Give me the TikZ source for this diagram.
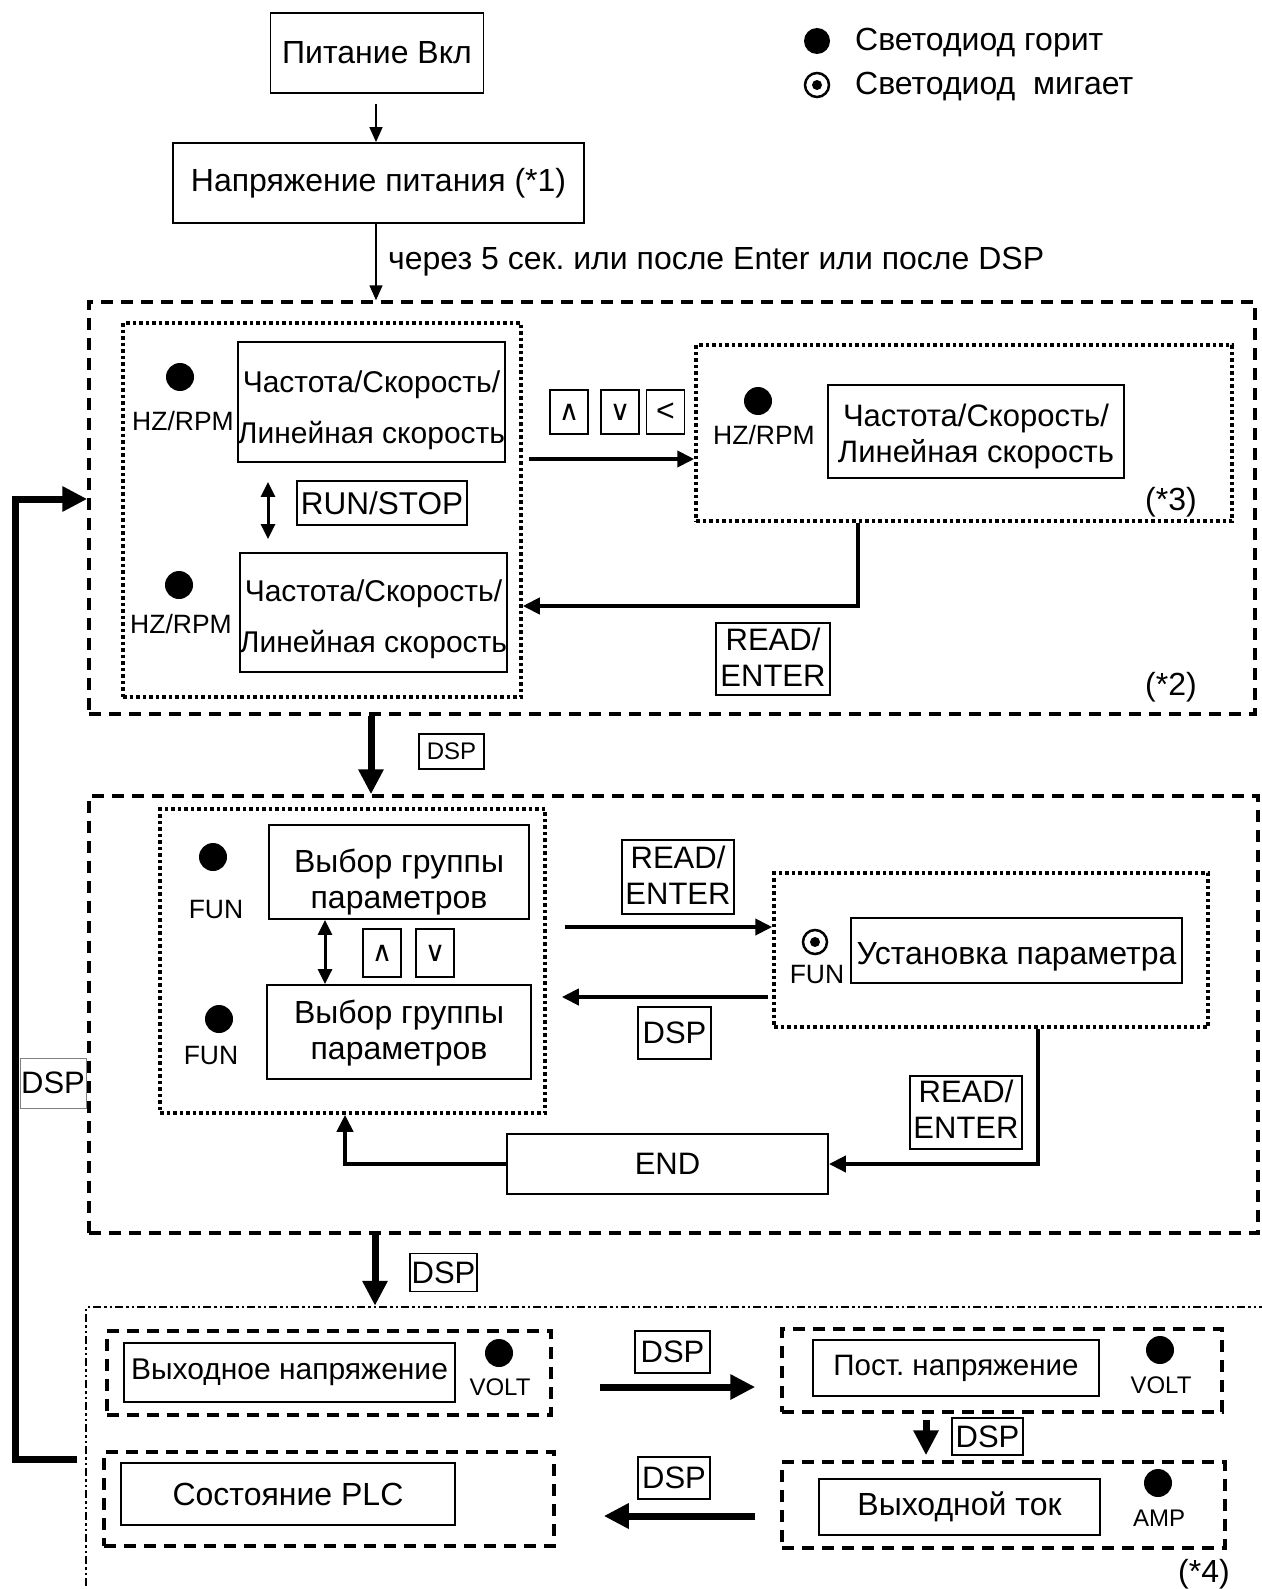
\documentclass[tikz,border=0pt]{standalone}
\usepackage{fontspec}
\setmainfont{Liberation Sans}
\newfontfamily\symfnt{DejaVu Sans}
\usetikzlibrary{arrows.meta,calc}
\newcommand\myfs[2]{\fontsize{#1}{#2}\selectfont}
\newcommand\shiftdown[2]{\raisebox{-#1}[\height][\depth]{#2}}
\newcommand\twol[2]{\begin{tabular}{@{}c@{}}#1\\#2\end{tabular}}
\frenchspacing
\tikzset{
  box/.style={draw, line width=1.8pt, inner sep=0pt, align=center, font=\myfs{32}{36}},
  keybox/.style={draw, line width=1.6pt, inner sep=0pt, minimum width=38, minimum height=44, font=\symfnt\myfs{28}{32}},
  dspbox/.style={draw, line width=1.6pt, inner sep=0pt, font=\myfs{31}{36}},
  dashbox/.style={draw, line width=3.5pt, dash pattern=on 12pt off 8pt, inner sep=0pt},
  dotbox/.style={draw, line width=3.5pt, dash pattern=on 3.5pt off 3pt, inner sep=0pt},
  dashdotbox/.style={draw, line width=2.5pt, dash pattern=on 8pt off 3pt on 2.5pt off 3pt on 2.5pt off 3pt, inner sep=0pt},
  led/.style={circle, fill=black, inner sep=0pt, minimum size=28},
  ledlab/.style={inner sep=0pt, font=\myfs{26.5}{30}},
  smlab/.style={inner sep=0pt, font=\myfs{24}{28}},
  txt/.style={inner sep=0pt, font=\myfs{32}{36}},
  thinarrow/.style={line width=1.5pt, -{Triangle[length=15pt, width=13pt]}},
  midarrow/.style={line width=4pt, -{Triangle[length=17pt, width=16pt]}},
  dblarrow/.style={line width=3pt, {Triangle[length=15pt, width=14pt]}-{Triangle[length=15pt, width=14pt]}},
  thickarrow/.style={line width=7pt, -{Triangle[length=25pt, width=24pt]}},
}
\begin{document}
\begin{tikzpicture}[x=1pt, y=-1pt]
\useasboundingbox (0,0) rectangle (1261,1589);
\fill[white] (0,0) rectangle (1261,1589);

% ---------- top ----------
\node[box, minimum width=213, minimum height=80] (pwr) at (377,53) {Питание Вкл};
\node[box, minimum width=411, minimum height=80] (volt) at (378.5,183) {Напряжение питания (*1)};
\draw[thinarrow, shorten <=10pt] (376,0 |- pwr.south) -- (376,0 |- volt.north);
\node[txt, anchor=west] (lbl5) at (388,262) {через 5 сек. или после Enter или после DSP};

% legend
\node[led, minimum size=26] (legon) at (817,41) {};
\node[txt, anchor=west] (legontxt) at (855,43) {Светодиод горит};
\node[circle, draw, line width=2.5pt, inner sep=0pt, minimum size=24] (legbl) at (817,85) {};
\fill (legbl.center) circle (5);
\node[txt, anchor=west] (legbltxt) at (855,87) {Светодиод\ \ мигает};

% ---------- section 1 ----------
\node[dashbox, minimum width=1166, minimum height=412] (sec1) at (672,508) {};
\draw[thinarrow] (376,0 |- volt.south) -- (376,0 |- sec1.north);
\node[dotbox, minimum width=398, minimum height=374] (d1) at (322,510) {};
\node[box, minimum width=267, minimum height=120, font=\myfs{30}{51}] (a1) at (371.5,402) {\shiftdown{6pt}{\twol{Частота/Скорость/}{Линейная скорость}}};
\node[box, minimum width=267, minimum height=119, font=\myfs{30}{51}] (a2) at (373.5,612.5) {\shiftdown{4pt}{\twol{Частота/Скорость/}{Линейная скорость}}};
\node[led] (la1) at (180,377) {};
\node[ledlab] (ha1) at (183,421) {HZ/RPM};
\node[led] (la2) at (179,585) {};
\node[ledlab] (ha2) at (181,624) {HZ/RPM};
\draw[dblarrow, shorten <=19pt, shorten >=13pt] (268,0 |- a1.south) -- (268,0 |- a2.north);
\node[box, minimum width=170, minimum height=44, font=\myfs{31.5}{36}] (runstop) at (382,503) {RUN/STOP};

\node[keybox] (k1) at (569,412) {∧};
\node[keybox] (k2) at (620,412) {∨};
\node[keybox, font=\myfs{32}{36}] (k3) at (665.5,412) {<};

\node[dotbox, minimum width=536, minimum height=176] (d2) at (964,433) {};
\node[led] (la3) at (758,401) {};
\node[ledlab] (ha3) at (764,435) {HZ/RPM};
\node[box, minimum width=296, minimum height=93, font=\myfs{31}{36}] (a3) at (976,431.5) {\shiftdown{6pt}{\twol{Частота/Скорость/}{Линейная скорость}}};
\node[txt] (n3) at (1171,502) {(*3)};

\draw[midarrow, shorten <=6pt] (d1.east |- 0,459) -- (d2.west |- 0,459);
\draw[midarrow, line join=miter] (858,0 |- d2.south) |- (d1.east |- 0,606);
\node[box, minimum width=114, minimum height=72, font=\myfs{31}{36}] (re1) at (773,659) {\shiftdown{2pt}{\twol{READ/}{ENTER}}};
\node[txt] (n2) at (1171,687) {(*2)};

% ---------- link 1 -> 2 ----------
\node[dspbox, minimum width=65, minimum height=35, font=\myfs{24}{28}] (dsp1) at (451.5,751.5) {DSP};

% ---------- section 2 ----------
\node[dashbox, minimum width=1169, minimum height=437] (sec2) at (673.5,1014.5) {};
\draw[thickarrow] (371,0 |- sec1.south) -- (371,0 |- sec2.north);
\node[dotbox, minimum width=385, minimum height=304] (d2a) at (352.5,961) {};
\node[box, minimum width=260, minimum height=94] (b1) at (399,872) {\shiftdown{11pt}{\twol{Выбор группы}{параметров}}};
\node[box, minimum width=264, minimum height=94] (b2) at (399,1032) {\shiftdown{2pt}{\twol{Выбор группы}{параметров}}};
\node[led] (lb1) at (213,857) {};
\node[ledlab] (fb1) at (216,910) {FUN};
\node[led] (lb2) at (219,1019) {};
\node[ledlab] (fb2) at (211,1056) {FUN};
\draw[dblarrow] (325,0 |- b1.south) -- (325,0 |- b2.north);
\node[keybox, minimum height=48] (k4) at (382,953) {∧};
\node[keybox, minimum height=48] (k5) at (435,953) {∨};

\node[box, minimum width=112, minimum height=74, font=\myfs{31}{36}] (re2) at (678,877) {\shiftdown{2pt}{\twol{READ/}{ENTER}}};
\node[dotbox, minimum width=434, minimum height=154] (d3) at (991,950) {};
\node[circle, draw, line width=2.5pt, inner sep=0pt, minimum size=24] (lc1) at (815,942) {};
\fill (lc1.center) circle (5);
\node[ledlab] (fc1) at (817,975) {FUN};
\node[box, minimum width=331, minimum height=65] (c1) at (1016.5,950.5) {\shiftdown{6pt}{Установка параметра}};
\draw[midarrow, shorten <=18pt] (d2a.east |- 0,927) -- (d3.west |- 0,927);
\draw[midarrow, shorten <=4pt, shorten >=15pt] (d3.west |- 0,997) -- (d2a.east |- 0,997);
\node[box, minimum width=73, minimum height=52, font=\myfs{31}{36}] (dsp2) at (674.5,1033) {DSP};

\node[box, minimum width=321, minimum height=60, font=\myfs{31}{36}] (endb) at (667.5,1164) {END};
\draw[midarrow, line join=miter] (1038,0 |- d3.south) |- (endb.east);
\node[box, minimum width=112, minimum height=73, font=\myfs{31}{36}] (re3) at (966,1112.5) {\shiftdown{1pt}{\twol{READ/}{ENTER}}};
\draw[midarrow, line join=miter] (endb.west) -| (345,0 |- d2a.south);

% ---------- section 3 ----------
\node[dashdotbox, minimum width=1204, minimum height=313] (sec3) at (688,1463.5) {};
\draw[thickarrow] (375,0 |- sec2.south) -- (375,0 |- sec3.north);
\node[dspbox, minimum width=67, minimum height=38] (dsp3) at (443.5,1272.5) {DSP};

\node[dashbox, minimum width=444, minimum height=84] (bxA) at (329,1373) {};
\node[box, minimum width=331, minimum height=59, font=\myfs{30}{36}] (ov) at (289.5,1372.5) {Выходное напряжение};
\node[led] (lA) at (499,1353) {};
\node[smlab] (vA) at (500,1387) {VOLT};

\node[dashbox, minimum width=440, minimum height=83] (bxB) at (1002,1370.5) {};
\node[box, minimum width=286, minimum height=56, font=\myfs{29.5}{34}] (pv) at (956,1368) {Пост. напряжение};
\node[led] (lB) at (1160,1350) {};
\node[smlab] (vB) at (1161,1385) {VOLT};

\node[dashbox, minimum width=443, minimum height=86] (bxC) at (1003.5,1505) {};
\node[box, minimum width=281, minimum height=56] (oc) at (959.5,1507) {Выходной ток};
\node[led] (lC) at (1158,1483) {};
\node[smlab] (aC) at (1159,1518) {AMP};

\node[dashbox, minimum width=450, minimum height=94] (bxD) at (329,1499) {};
\node[box, minimum width=334, minimum height=62] (plc) at (288,1494) {Состояние PLC};

\draw[thickarrow, shorten <=47pt, shorten >=25pt] (bxA.east |- 0,1387) -- (bxB.west |- 0,1387);
\node[dspbox, minimum width=75, minimum height=42] (dspR) at (672.5,1352) {DSP};
\draw[thickarrow, shorten <=6pt, shorten >=5pt] (926,0 |- bxB.south) -- (926,0 |- bxC.north);
\node[dspbox, minimum width=71, minimum height=37] (dspD) at (987.5,1436.5) {DSP};
\draw[thickarrow, shorten <=25pt, shorten >=48pt] (bxC.west |- 0,1516) -- (bxD.east |- 0,1516);
\node[dspbox, minimum width=72, minimum height=42] (dspL) at (674,1478) {DSP};
\node[txt] (n4) at (1204,1574) {(*4)};

% ---------- feedback loop ----------
\draw[thickarrow, line join=miter, shorten <=8pt] (sec3.west |- 0,1459) -| (15,499) -- (sec1.west |- 0,499);
\node[draw=gray, line width=1pt, fill=white, inner sep=0pt, minimum width=66, minimum height=50, font=\myfs{31}{36}] (dspF) at (53,1083) {DSP};

\end{tikzpicture}
\end{document}
